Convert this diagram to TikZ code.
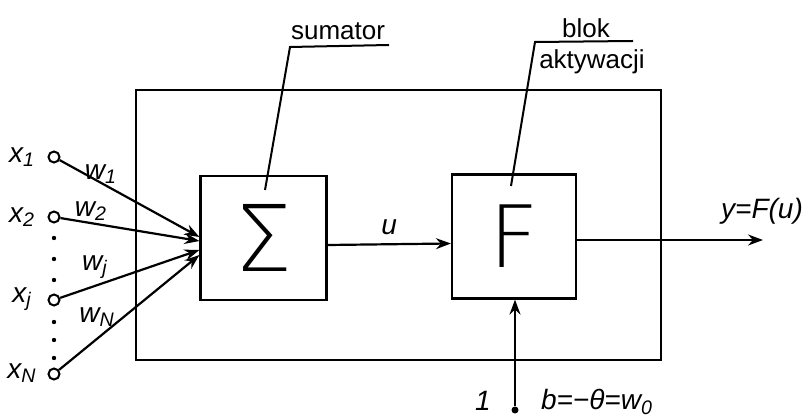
\documentclass[tikz,border=0pt]{standalone}
\usepackage{fontspec}
\setmainfont{Liberation Sans}
\newfontfamily\thinfont{DejaVu Sans ExtraLight}
\usetikzlibrary{arrows.meta, positioning}
\tikzset{
  block/.style={rectangle, draw, line width=1.1pt, minimum width=#1, minimum height=62pt, inner sep=0pt},
  block/.default=63pt,
  arrow/.style={-{Stealth[length=7.5pt, width=5.5pt, inset=2.5pt]}, line width=1.1pt},
  pin/.style={circle, draw, line width=1pt, minimum size=5.5pt, inner sep=0pt, fill=white},
  dot/.style={circle, fill, minimum size=2.2pt, inner sep=0pt},
  lbl/.style={font=\fontsize{13}{15}\selectfont, inner sep=1pt},
  var/.style={font=\fontsize{14}{16}\selectfont\itshape, inner sep=1pt},
  leader/.style={line width=1pt},
}

\begin{document}
\begin{tikzpicture}[x=0.5pt, y=-0.5pt]
  \useasboundingbox (0,0) rectangle (807,416);

  % neuron frame and the two blocks
  \node[block=262.5pt, minimum height=135pt] (neuron) at (398.5,225) {};
  \node[block] (sum) at (263.5,238) {\thinfont\fontsize{46}{46}\selectfont Σ};
  \node[block=62pt] (act) at (514,236.5) {\thinfont\fontsize{43}{43}\selectfont F};

  % inputs
  \node[pin] (x1) at (54,157) {};
  \node[pin] (x2) at (54,217) {};
  \node[pin] (xj) at (54,300) {};
  \node[pin] (xN) at (54,374) {};
  \node[var] (lx1) at (22,157) {x\textsubscript{1}};
  \node[var] (lx2) at (22,217) {x\textsubscript{2}};
  \node[var] (lxj) at (22,299) {x\textsubscript{j}};
  \node[var] (lxN) at (22,373) {x\textsubscript{N}};
  \foreach \y [count=\i] in {238,259,280,322,340,358}
    \node[dot] (d\i) at (54,\y) {};

  % weights
  \draw[arrow] (x1) -- ([yshift=0.5pt]sum.west);
  \draw[arrow] (x2) -- ([yshift=-1.5pt]sum.west);
  \draw[arrow] (xj) -- ([yshift=-6pt]sum.west);
  \draw[arrow] (xN) -- ([yshift=-8.5pt]sum.west);
  \node[var] (w1) at (101,174) {w\textsubscript{1}};
  \node[var] (w2) at (91,211) {w\textsubscript{2}};
  \node[var] (wj) at (95,267) {w\textsubscript{j}};
  \node[var] (wN) at (97,317) {w\textsubscript{N}};

  % u and output
  \draw[arrow] ([yshift=-3.5pt]sum.east) -- ([yshift=-3.5pt]act.west)
    node[var, midway, above=3pt] (u) {u};
  \coordinate (out) at (763,240);
  \draw[arrow] ([yshift=-1.75pt]act.east) -- (out);
  \node[var] (y) at (762,211) {y=F(u)};

  % bias
  \node[dot, minimum size=3.5pt] (one) at (515,410) {};
  \draw[arrow] (one) -- (act.south -| one);
  \node[var] (lone) at (483,401) {1};
  \node[var] (bias) at (597,402) {b=−θ=w\textsubscript{0}};

  % descriptions
  \node[lbl] (sumtxt) at (338,31) {sumator};
  \coordinate (sumpt) at (265,190);
  \draw[leader] (sumpt) -- (290,47) -- (389,45);
  \node[lbl] (bloktxt) at (586,28) {blok};
  \node[lbl] (akttxt) at (592,62) {aktywacji};
  \coordinate (actpt) at (511,186);
  \draw[leader] (actpt) -- (535,42) -- (633,41);
\end{tikzpicture}
\end{document}
